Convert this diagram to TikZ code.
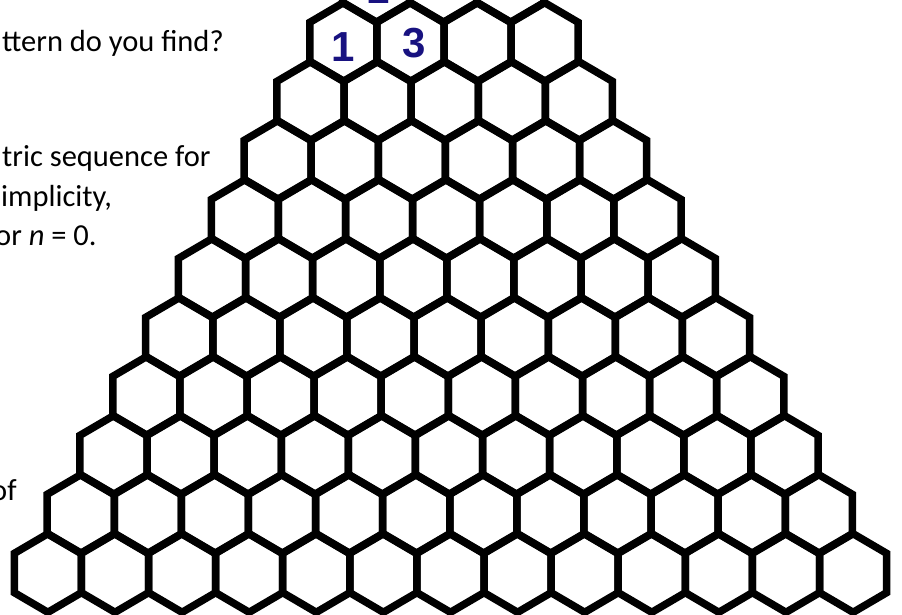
\documentclass[tikz,border=0pt]{standalone}
\usepackage{fontspec}
\setmainfont{Carlito}
\newfontfamily\penfont{Liberation Sans}
\definecolor{ink}{RGB}{24,18,128}
\usetikzlibrary{positioning}

\begin{document}
\begin{tikzpicture}[x=1pt, y=-1pt,
    hexcell/.style={draw=black, line width=7.5pt},
    txt/.style={anchor=base west, inner sep=0pt, font=\fontsize{30.5}{39}\selectfont},
    pen/.style={anchor=base, inner sep=0pt, text=ink, font=\penfont\bfseries\fontsize{42}{44}\selectfont}
  ]
  \useasboundingbox (0,0) rectangle (902,615);
  \clip (0,0) rectangle (902,615);
  % triangle of hexagons, rows 2 to 12
  \foreach \r in {2,...,12}{
    \foreach \k in {0,...,\r}{
      \pgfmathsetmacro{\cx}{444+0.72*(\r-3)+(\k-\r/2)*67.1}
      \pgfmathsetmacro{\cy}{42+59*(\r-3)}
      \draw[hexcell] (\cx,\cy) ++(0,-39.3) -- ++(33.55,19.65) -- ++(0,39.3)
        -- ++(-33.55,19.65) -- ++(-33.55,-19.65) -- ++(0,-39.3) -- cycle;
    }
  }
  % text on the left
  \node[txt] (q1) at (2,52) {ttern do you find?};
  \node[txt] (q2) at (2,167) {tric sequence for};
  \node[txt] (q3) at (1,206) {implicity,};
  \node[txt] (q4) at (-5,245) {or \textit{n} = 0.};
  \node[txt] (q5) at (-9,500) {of};
  % handwritten numbers
  \node[pen] (top) at (378,4) {1};
  \node[pen] (one) at (343,62) {1};
  \node[pen] (three) at (414,58) {3};
\end{tikzpicture}
\end{document}
